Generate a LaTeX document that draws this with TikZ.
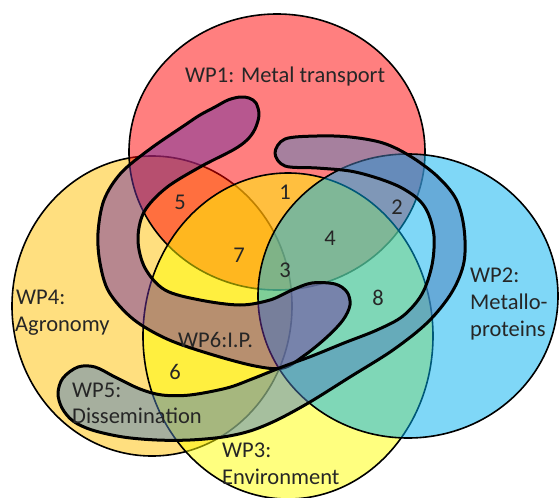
\documentclass[tikz,border=0pt]{standalone}
\usepackage{fontspec}
\setmainfont{Carlito}
\definecolor{wpred}{RGB}{255,0,0}
\definecolor{wporange}{RGB}{255,192,0}
\definecolor{wpyellow}{RGB}{255,255,0}
\definecolor{wpblue}{RGB}{0,176,240}
\definecolor{wppurple}{RGB}{112,48,160}
\definecolor{wpsteel}{RGB}{79,129,189}
\newcommand{\wpfont}{\fontsize{22.5}{27}\selectfont}
\begin{document}
\begin{tikzpicture}[x=1pt,y=-1pt,
  wpcircle/.style={draw=black, line width=1.6pt, fill opacity=0.5},
  wpblob/.style={draw=black, line width=3pt, fill opacity=0.5, line join=round},
  wplabel/.style={text=black!85, font=\wpfont, inner sep=0pt}]
\useasboundingbox (0,0) rectangle (560,498);
\fill[white] (0,0) rectangle (560,498);

% work package circles, bottom to top
\path[wpcircle, fill=wporange] (152,306) ellipse [x radius=140pt, y radius=150pt];
\path[wpcircle, fill=wpred]    (277,152) ellipse [x radius=148pt, y radius=138pt];
\path[wpcircle, fill=wpyellow] (288,336) ellipse [x radius=145pt, y radius=163pt];
\path[wpcircle, fill=wpblue]   (408,296) ellipse [x radius=150pt, y radius=142pt];

% WP6: hooked band
\path[wpblob, fill=wppurple] plot[smooth cycle, tension=0.55] coordinates {
  (240,97) (228,100) (215,107) (200,115) (185,125) (150,149) (121,173)
  (104,200) (98,233)
  (100,263) (109,292) (133,319) (167,339) (210,354) (255,366) (283,368)
  (305,355) (327,337) (343,320) (350,305) (347,292) (335,284) (312,283)
  (292,290) (270,300) (240,305) (200,300) (165,290) (145,268) (138,240)
  (144,212) (166,188) (200,167) (233,150) (247,140) (255,129) (259,115)
  (256,103) (249,98)};

% WP5: band wrapping round the right side
\path[wpblob, fill=wpsteel] plot[smooth cycle, tension=0.55] coordinates {
  (275,153) (285,139) (317,136) (350,137) (383,143) (410,156) (437,176)
  (456,199) (464,228) (464,262) (452,292) (428,322) (393,350) (350,377)
  (310,402) (277,420) (250,431) (223,437) (190,440) (157,440) (123,437)
  (92,430) (73,421) (62,408) (58,393) (63,378) (78,367) (95,367)
  (115,377) (140,389) (162,395) (190,395) (227,388) (252,379) (282,367)
  (312,356) (344,343) (377,330) (403,316) (422,294) (432,265) (434,236)
  (428,213) (418,199) (400,187) (377,178) (350,171) (317,168) (285,166)};

% labels
\node[wplabel, anchor=base west] (wp1)  at (185,82)  {WP1: Metal transport};
\node[wplabel, anchor=base west] (wp2a) at (470,282) {WP2:};
\node[wplabel, anchor=base west] (wp2b) at (470,309) {Metallo-};
\node[wplabel, anchor=base west] (wp2c) at (470,336) {proteins};
\node[wplabel, anchor=base west] (wp3a) at (222,457) {WP3:};
\node[wplabel, anchor=base west] (wp3b) at (222,484) {Environment};
\node[wplabel, anchor=base west] (wp4a) at (16,304)  {WP4:};
\node[wplabel, anchor=base west] (wp4b) at (15,331)  {Agronomy};
\node[wplabel, anchor=base west] (wp5a) at (72,397)  {WP5:};
\node[wplabel, anchor=base west] (wp5b) at (72,423)  {Dissemination};
\node[wplabel, anchor=base west] (wp6)  at (178,347) {WP6:I.P.};

% overlap numbers
\node[wplabel] (n1) at (285,192) {1};
\node[wplabel] (n2) at (397,207) {2};
\node[wplabel] (n3) at (285,270) {3};
\node[wplabel] (n4) at (330,238) {4};
\node[wplabel] (n5) at (180,202) {5};
\node[wplabel] (n6) at (175,372) {6};
\node[wplabel] (n7) at (239,255) {7};
\node[wplabel] (n8) at (378,298) {8};
\end{tikzpicture}
\end{document}
